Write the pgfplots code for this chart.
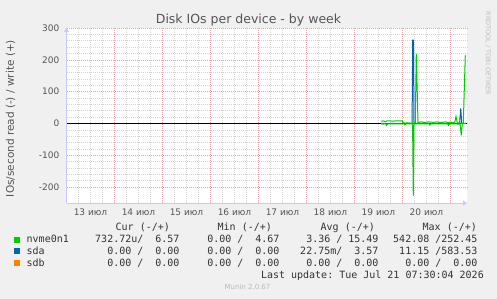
\documentclass[border=0pt]{standalone}
\usepackage{pgfplots}
\pgfplotsset{compat=1.18}
\usepackage{fontspec}
\setmainfont{DejaVu Sans}
\setmonofont{DejaVu Sans Mono}
\usetikzlibrary{arrows.meta}
\definecolor{bg}{HTML}{F0F0F0}
\definecolor{axcol}{RGB}{200,200,255}
\definecolor{majgrid}{RGB}{232,165,165}
\definecolor{mingrid}{RGB}{212,212,212}
\definecolor{txt}{HTML}{555555}
\definecolor{legtxt}{HTML}{333333}
\definecolor{mgreen}{HTML}{00CC00}
\definecolor{mblue}{HTML}{0066B3}
\definecolor{morange}{HTML}{FF8000}

\pgfplotstableread{
d v
6.552 7
6.60 8
6.64 6
6.68 8
6.75 8
6.80 7
6.85 8
6.90 8
6.95 8
7.00 8
7.012 2
7.05 1
7.10 2
7.15 1
7.20 1
7.212 0
7.24 2
7.267 3
7.2875 219
7.323 3
7.35 4
7.40 5
7.45 3
7.50 4
7.55 5
7.60 4
7.65 3
7.70 5
7.75 4
7.80 3
7.85 4
7.90 5
7.95 3
8.00 4
8.05 3
8.09 4
8.115 22
8.14 3
8.156 1
8.19 2
8.225 0
8.267 2
8.308 212
8.323 212
}\nvmewrite

\pgfplotstableread{
d v
6.552 -1
6.60 -2
6.65 -1
6.67 -6
6.70 -1
6.90 -1
7.03 -1
7.05 -4
7.08 -1
7.21 -1
7.225 -227
7.24 -1
7.55 -1
7.57 -5
7.59 -1
7.94 -1
7.96 -6
7.98 -1
8.20 -2
8.225 -37
8.245 -3
8.26 -1
8.323 0
}\nvmeread

\pgfplotstableread{
d v
6.552 0
7.20 0
7.2125 262
7.228 262
7.24 0
8.19 0
8.2125 47
8.235 0
8.323 0
}\sdawrite

\pgfplotstableread{
d v
6.552 0
8.323 0
}\sdbwrite

\begin{document}
\begin{tikzpicture}[x=1pt,y=1pt]
\fill[bg] (0,0) rectangle (497,299);
\begin{axis}[
  at={(66.5pt,96pt)}, anchor=south west,
  scale only axis, width=400.5pt, height=175pt,
  xmin=0, xmax=8.344, ymin=-250, ymax=300,
  axis x line=bottom, axis y line=left,
  axis line style={draw=axcol, line width=0.8pt},
  x axis line style={-{Triangle[length=4pt,width=5pt]}},
  y axis line style={-{Triangle[length=4pt,width=5pt]}},
  axis background/.style={fill=white},
  xtick={0,1,2,3,4,5,6,7,8}, xticklabels={},
  minor x tick num=3,
  ytick={-200,-100,0,100,200,300}, minor y tick num=4,
  grid=both,
  major grid style={draw=majgrid, line width=0.5pt, dash pattern=on 1pt off 1pt},
  minor grid style={draw=mingrid, line width=0.5pt, dash pattern=on 1pt off 1pt},
  major tick length=0pt, minor tick length=0pt,
  extra x ticks={0.5,1.5,2.5,3.5,4.5,5.5,6.5,7.5},
  extra x tick labels={13 июл,14 июл,15 июл,16 июл,17 июл,18 июл,19 июл,20 июл},
  extra x tick style={grid=none, major tick length=0pt},
  xticklabel style={inner sep=0pt, anchor=base, yshift=-12.5pt, font=\fontsize{9}{10}\selectfont, text=txt},
  yticklabel style={inner sep=0pt, anchor=east, xshift=-7pt, font=\fontsize{9}{10}\selectfont, text=txt},
  /pgf/number format/assume math mode=true,
]
\addplot[draw=morange, line width=1pt] table[x=d,y=v] {\sdbwrite};
\addplot[draw=black, line width=1.2pt] coordinates {(0,0) (8.344,0)};
\addplot[draw=mblue, line width=1pt] table[x=d,y=v] {\sdawrite};
\addplot[draw=mgreen, line width=1pt] table[x=d,y=v] {\nvmeread};
\addplot[draw=mgreen, line width=1pt] table[x=d,y=v] {\nvmewrite};
\end{axis}

% title and labels
\node[anchor=base, text=txt, font=\fontsize{12.5}{14}\selectfont, inner sep=0pt] at (248.5,275.5) {Disk IOs per device - by week};
\node[rotate=90, text=txt, font=\fontsize{10.5}{12}\selectfont, inner sep=0pt] at (10.5,180.5) {IOs/second read (-) / write (+)};
\node[rotate=-90, text={rgb,255:red,190;green,190;blue,190}, font=\fontsize{6.5}{7}\selectfont, inner sep=0pt] at (488,245.5) {RRDTOOL / TOBI OETIKER};

% legend
\begin{scope}[every node/.style={inner sep=0pt, text=legtxt, font=\ttfamily\fontsize{10}{12}\selectfont}]
\node[anchor=base west] at (115.5,68) {Cur~(-/+)};
\node[anchor=base west] at (217.5,68) {Min~(-/+)};
\node[anchor=base west] at (320.5,68) {Avg~(-/+)};
\node[anchor=base west] at (422.5,68) {Max~(-/+)};

\fill[mgreen] (14,56) rectangle (20,62);
\node[anchor=base west] at (26.5,56) {nvme0n1};
\node[anchor=base east] at (179.7,56) {732.72u/~~6.57};
\node[anchor=base east] at (279.7,56) {0.00~/~~4.67};
\node[anchor=base east] at (378.7,56) {3.36~/~15.49};
\node[anchor=base east] at (477.7,56) {542.08~/252.45};

\fill[mblue] (14,44.5) rectangle (20,50.5);
\node[anchor=base west] at (26.5,44.5) {sda};
\node[anchor=base east] at (179.7,44.5) {0.00~/~~0.00};
\node[anchor=base east] at (279.7,44.5) {0.00~/~~0.00};
\node[anchor=base east] at (378.7,44.5) {22.75m/~~3.57};
\node[anchor=base east] at (477.7,44.5) {11.15~/583.53};

\fill[morange] (14,32.5) rectangle (20,38.5);
\node[anchor=base west] at (26.5,32.5) {sdb};
\node[anchor=base east] at (179.7,32.5) {0.00~/~~0.00};
\node[anchor=base east] at (279.7,32.5) {0.00~/~~0.00};
\node[anchor=base east] at (378.7,32.5) {0.00~/~~0.00};
\node[anchor=base east] at (477.7,32.5) {0.00~/~~0.00};

\node[anchor=base east] at (484,20) {Last~update:~Tue~Jul~21~07:30:04~2026};
\end{scope}
\node[anchor=center, text={rgb,255:red,185;green,185;blue,185}, font=\fontsize{7}{8}\selectfont, inner sep=0pt] at (247.5,12) {Munin 2.0.67};
\end{tikzpicture}
\end{document}
